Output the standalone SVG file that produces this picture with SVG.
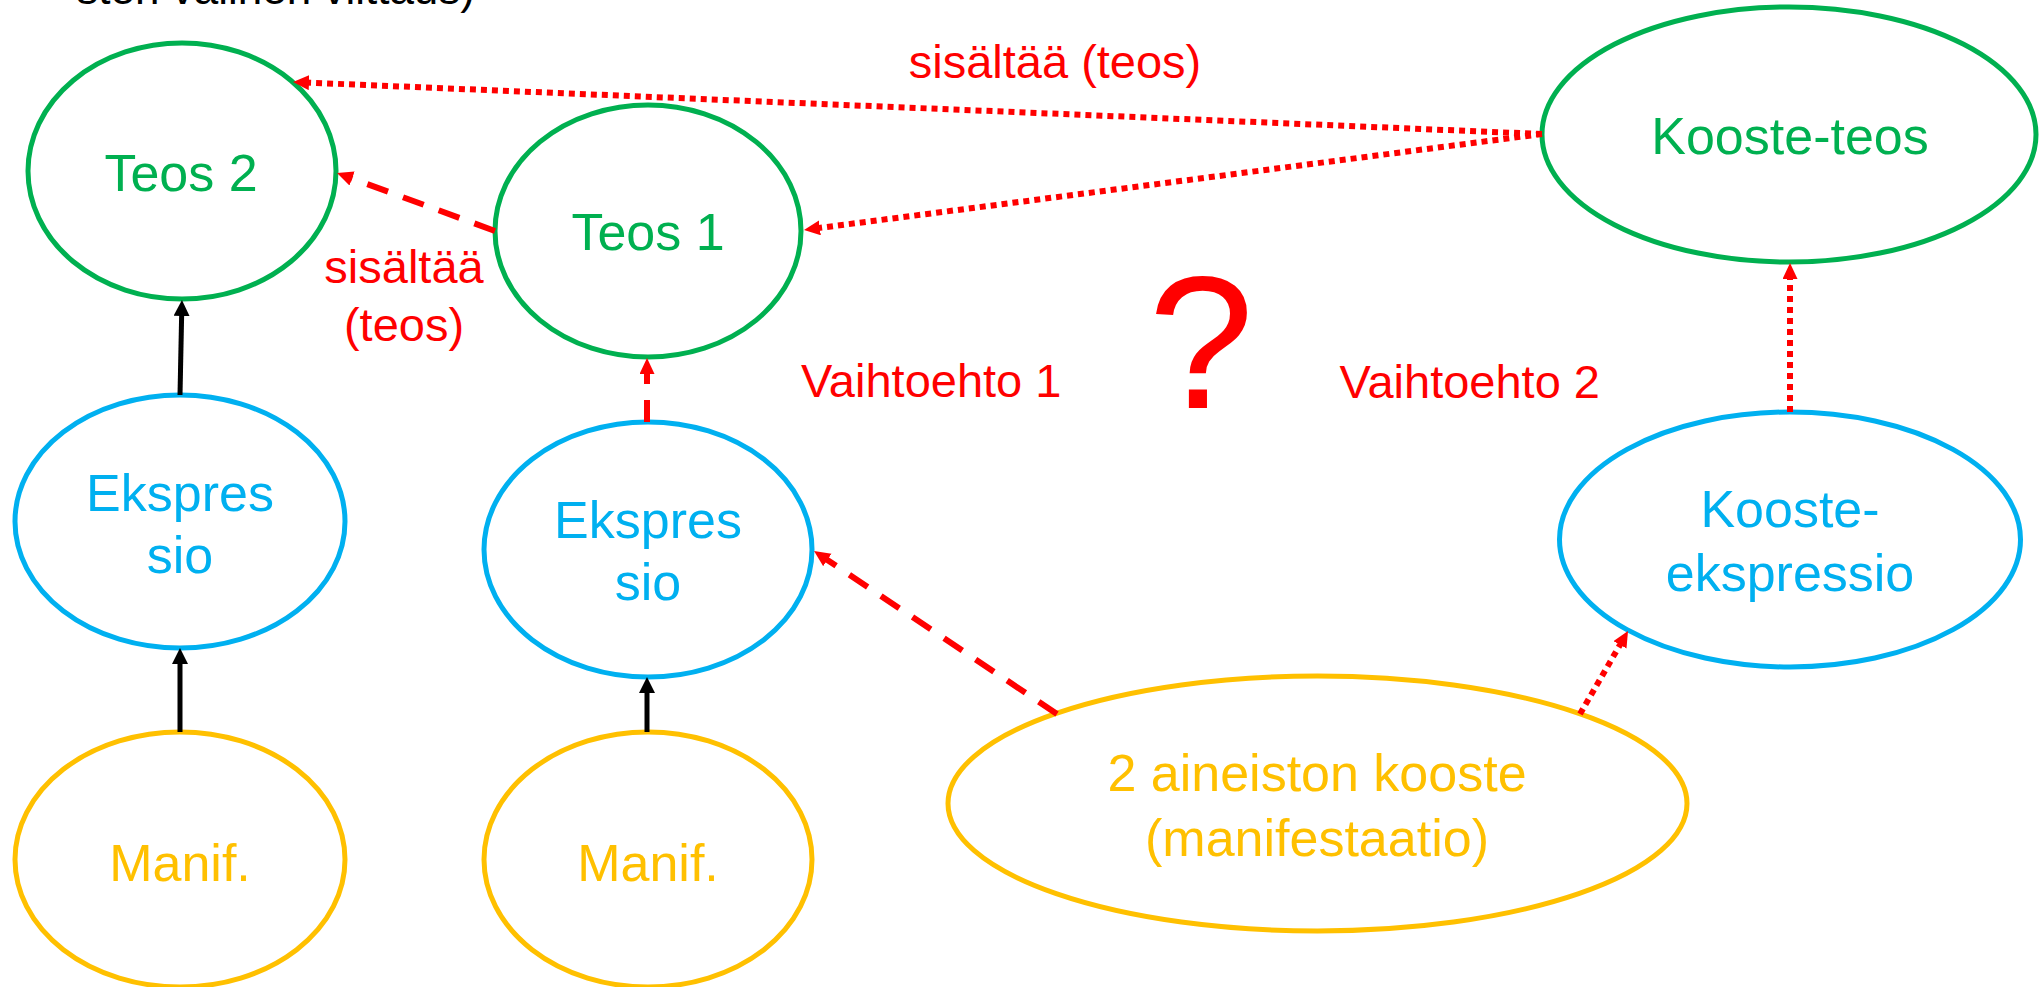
<svg xmlns="http://www.w3.org/2000/svg" width="2039" height="987" viewBox="0 0 2039 987">
<style>
text{font-family:"Liberation Sans",Arial,sans-serif}
.node{fill:#fff;stroke-width:5}
.g{stroke:#00B050}.gt{fill:#00B050}
.b{stroke:#00B0F0}.bt{fill:#00B0F0}
.y{stroke:#FFC000}.yt{fill:#FFC000}
.nt{font-size:52px;text-anchor:middle}
.lbl{font-size:47px;fill:#FF0000}
.dot{stroke:#FF0000;stroke-width:6;fill:none;stroke-dasharray:6 5;marker-end:url(#ar)}
.dash{stroke:#FF0000;stroke-width:6;fill:none;stroke-dasharray:22 16;marker-end:url(#ar)}
.solid{stroke:#000;stroke-width:5;fill:none;marker-end:url(#ab)}
</style>
<defs>
<marker id="ar" markerUnits="userSpaceOnUse" markerWidth="18" markerHeight="18" refX="4" refY="7.5" orient="auto"><path d="M0,0 L16,7.5 L0,15 z" fill="#FF0000"/></marker>
<marker id="ab" markerUnits="userSpaceOnUse" markerWidth="18" markerHeight="18" refX="4" refY="8" orient="auto"><path d="M0,0 L16,8 L0,16 z" fill="#000"/></marker>
</defs>
<rect width="2039" height="987" fill="#fff"/>
<text x="475" y="4" font-size="44" fill="#000" text-anchor="end">sten välinen viittaus)</text>

<g id="teos2"><ellipse class="node g" cx="182" cy="171" rx="154" ry="128"/><text class="nt gt" x="181" y="191">Teos 2</text></g>
<g id="teos1"><ellipse class="node g" cx="648" cy="231" rx="153" ry="126"/><text class="nt gt" x="648" y="250">Teos 1</text></g>
<g id="koosteteos"><ellipse class="node g" cx="1789" cy="134.5" rx="247" ry="127.5"/><text class="nt gt" x="1790" y="154">Kooste-teos</text></g>
<g id="ekspressio1"><ellipse class="node b" cx="180" cy="521.5" rx="165" ry="126.5"/><text class="nt bt" x="180" y="511">Ekspres</text><text class="nt bt" x="180" y="573">sio</text></g>
<g id="ekspressio2"><ellipse class="node b" cx="648" cy="549.5" rx="164" ry="127.5"/><text class="nt bt" x="648" y="538">Ekspres</text><text class="nt bt" x="648" y="600">sio</text></g>
<g id="koosteekspressio"><ellipse class="node b" cx="1790" cy="539.5" rx="230.5" ry="127.5"/><text class="nt bt" x="1790" y="527">Kooste-</text><text class="nt bt" x="1790" y="591">ekspressio</text></g>
<g id="manif1"><ellipse class="node y" cx="180" cy="859.5" rx="165" ry="127.5"/><text class="nt yt" x="180" y="881">Manif.</text></g>
<g id="manif2"><ellipse class="node y" cx="648" cy="859.5" rx="164" ry="127.5"/><text class="nt yt" x="648" y="881">Manif.</text></g>
<g id="kooste"><ellipse class="node y" cx="1317.5" cy="803.5" rx="369.5" ry="127.5"/><text class="nt yt" x="1317" y="791">2 aineiston kooste</text><text class="nt yt" x="1317" y="856">(manifestaatio)</text></g>

<g id="connectors">
<line class="dot" x1="1542" y1="134" x2="305" y2="82.5"/>
<line class="dot" x1="1542" y1="134" x2="815.9" y2="228.4"/>
<line class="dash" x1="495" y1="231" x2="348.3" y2="177.1"/>
<line class="dash" x1="647" y1="422" x2="647" y2="370"/>
<line class="dash" x1="1057" y1="714" x2="824" y2="557.7"/>
<line class="dot" x1="1580" y1="714" x2="1622" y2="641.4"/>
<line class="dot" x1="1790" y1="412" x2="1790" y2="275"/>
<line class="solid" x1="180" y1="395" x2="181.7" y2="312"/>
<line class="solid" x1="180" y1="732" x2="180" y2="660"/>
<line class="solid" x1="647" y1="732" x2="647" y2="689"/>
</g>

<g id="labels">
<text class="lbl" x="1055" y="78" text-anchor="middle">sisältää (teos)</text>
<text class="lbl" x="404" y="283" text-anchor="middle">sisältää</text>
<text class="lbl" x="404" y="341" text-anchor="middle">(teos)</text>
<text class="lbl" x="801" y="397">Vaihtoehto 1</text>
<text class="lbl" x="1600" y="398" text-anchor="end">Vaihtoehto 2</text>
<text x="1201" y="408" font-size="190" fill="#FF0000" text-anchor="middle">?</text>
</g>
</svg>
